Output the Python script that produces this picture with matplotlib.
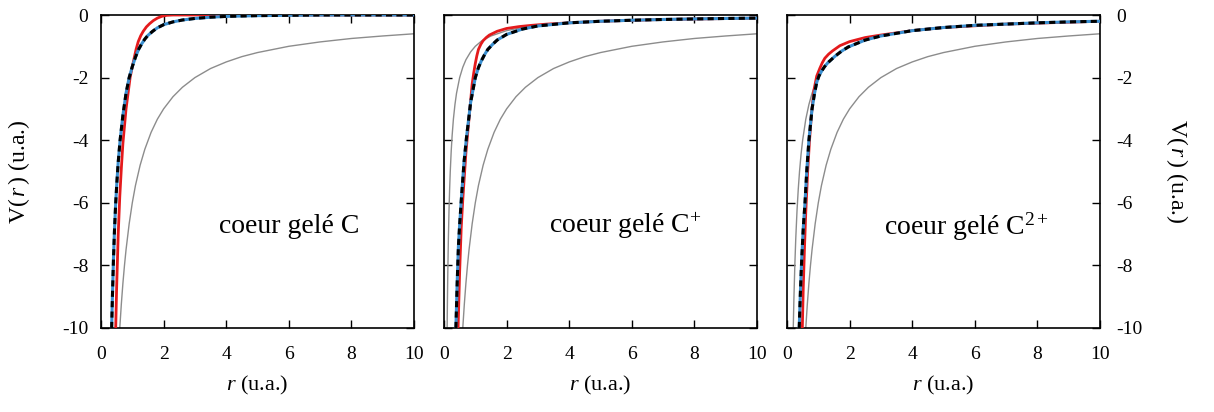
import numpy as np
import matplotlib.pyplot as plt

plt.rcParams['font.family'] = ['Liberation Serif', 'DejaVu Serif']
plt.rcParams['mathtext.fontset'] = 'custom'
plt.rcParams['mathtext.rm'] = 'Liberation Serif'
plt.rcParams['mathtext.it'] = 'Liberation Serif:italic'
plt.rcParams['axes.unicode_minus'] = False

# --- DATA ---
# noyau nu, -6/r (same in the three panels)
r_nuc = [0.6, 0.65, 0.7, 0.75, 0.8, 0.9, 1.0, 1.1, 1.25, 1.4, 1.6, 1.8, 2.0, 2.3, 2.6, 3.0, 3.5, 4.0, 4.5, 5.0, 6.0, 7.0, 8.0, 9.0, 10.0]
v_nuc = [-10, -9.23, -8.57, -8.0, -7.5, -6.67, -6.0, -5.45, -4.8, -4.29, -3.75, -3.33, -3.0, -2.61, -2.31, -2.0, -1.71, -1.5, -1.33, -1.2, -1.0, -0.86, -0.75, -0.67, -0.6]

# ion charge seen from outside (C+ : -1/r, C2+ : -2/r)
r_ion1 = [0.1, 0.11, 0.12, 0.14, 0.16, 0.18, 0.2, 0.23, 0.26, 0.3, 0.35, 0.4, 0.5, 0.6, 0.7, 0.85, 1.0, 1.2, 1.5, 2.0, 2.5, 3.0, 4.0, 5.0, 6.0, 8.0, 10.0]
v_ion1 = [-10, -9.09, -8.33, -7.14, -6.25, -5.56, -5.0, -4.35, -3.85, -3.33, -2.86, -2.5, -2.0, -1.67, -1.43, -1.18, -1.0, -0.83, -0.67, -0.5, -0.4, -0.33, -0.25, -0.2, -0.17, -0.125, -0.1]
r_ion2 = [0.2, 0.22, 0.25, 0.28, 0.32, 0.36, 0.4, 0.45, 0.5, 0.6, 0.7, 0.8, 1.0, 1.2, 1.5, 2.0, 2.5, 3.0, 4.0, 5.0, 6.0, 8.0, 10.0]
v_ion2 = [-10, -9.09, -8.0, -7.14, -6.25, -5.56, -5.0, -4.44, -4.0, -3.33, -2.86, -2.5, -2.0, -1.67, -1.33, -1.0, -0.8, -0.67, -0.5, -0.4, -0.33, -0.25, -0.2]

# coeur gele C
rC_ref = [0.34, 0.37, 0.4, 0.43, 0.47, 0.51, 0.55, 0.61, 0.7, 0.8, 0.9, 1.0, 1.1, 1.2, 1.3, 1.4, 1.5, 1.65, 1.8, 2.0, 2.3, 2.6, 3.0, 3.5, 4.0, 5.0, 6.0, 7.0, 10.0]
vC_ref = [-10, -8.8, -7.75, -6.9, -6.0, -5.3, -4.7, -4.0, -3.2, -2.5, -2.0, -1.65, -1.35, -1.1, -0.92, -0.77, -0.65, -0.52, -0.41, -0.31, -0.22, -0.16, -0.11, -0.07, -0.045, -0.02, -0.01, 0, 0]
rC_fit = [0.47, 0.5, 0.55, 0.6, 0.65, 0.7, 0.8, 0.93, 1.0, 1.05, 1.12, 1.19, 1.27, 1.35, 1.45, 1.55, 1.67, 1.8, 1.95, 2.1, 2.3, 10.0]
vC_fit = [-10, -8.7, -7.0, -5.8, -4.9, -4.1, -3.0, -2.0, -1.65, -1.42, -1.1, -0.85, -0.66, -0.52, -0.38, -0.28, -0.18, -0.1, -0.04, -0.01, 0, 0]

# coeur gele C+
rC1_ref = [0.38, 0.42, 0.46, 0.5, 0.56, 0.64, 0.72, 0.85, 1.0, 1.1, 1.2, 1.3, 1.4, 1.55, 1.7, 2.0, 2.5, 3.0, 4.0, 5.0, 6.0, 7.0, 8.0, 9.0, 10.0]
vC1_ref = [-10, -8.6, -7.4, -6.7, -5.8, -4.7, -3.9, -2.8, -2.0, -1.68, -1.45, -1.26, -1.1, -0.94, -0.8, -0.62, -0.45, -0.35, -0.25, -0.2, -0.167, -0.143, -0.125, -0.111, -0.1]
rC1_fit = [0.45, 0.5, 0.55, 0.6, 0.7, 0.8, 0.9, 0.95, 1.0, 1.05, 1.1, 1.18, 1.25, 1.35, 1.45, 1.7, 2.0, 2.4, 2.8, 3.3, 4.0, 5.0, 7.0, 10.0]
vC1_fit = [-10, -8.2, -6.8, -5.9, -4.4, -3.3, -2.2, -1.85, -1.55, -1.3, -1.1, -0.93, -0.82, -0.72, -0.64, -0.52, -0.43, -0.37, -0.33, -0.29, -0.25, -0.2, -0.143, -0.1]

# coeur gele C2+
rC2_ref = [0.39, 0.43, 0.47, 0.52, 0.575, 0.63, 0.7, 0.8, 0.88, 0.95, 1.02, 1.1, 1.2, 1.3, 1.53, 1.75, 1.96, 2.5, 3.0, 4.0, 5.0, 6.0, 7.0, 8.0, 9.0, 10.0]
vC2_ref = [-10, -8.8, -7.8, -6.8, -6.0, -5.0, -4.0, -3.0, -2.5, -2.15, -1.95, -1.8, -1.65, -1.53, -1.32, -1.15, -1.02, -0.8, -0.67, -0.5, -0.4, -0.33, -0.29, -0.25, -0.22, -0.2]
rC2_fit = [0.49, 0.52, 0.56, 0.6, 0.66, 0.72, 0.78, 0.86, 0.95, 1.05, 1.13, 1.21, 1.33, 1.45, 1.69, 2.0, 2.5, 3.0, 4.0, 5.0, 7.0, 10.0]
vC2_fit = [-10, -8.7, -7.4, -6.3, -5.0, -4.0, -3.2, -2.4, -1.95, -1.7, -1.52, -1.38, -1.25, -1.15, -0.98, -0.85, -0.72, -0.64, -0.5, -0.4, -0.29, -0.2]

labels = ['coeur gelé C', 'coeur gelé C$^{+}$', 'coeur gelé C$^{2+}$']
text_x = [6.0, 5.8, 5.75]

panels = [
    (None, None, rC_ref, vC_ref, rC_fit, vC_fit),
    (r_ion1, v_ion1, rC1_ref, vC1_ref, rC1_fit, vC1_fit),
    (r_ion2, v_ion2, rC2_ref, vC2_ref, rC2_fit, vC2_fit),
]

fig = plt.figure(figsize=(12.14, 4.12), dpi=100)
lefts = [101, 444, 787]
ylab = 'V$(\\,r\\,)$ (u.a.)'

for i, (ri, vi, rr, vr, rf, vf) in enumerate(panels):
    ax = fig.add_axes([lefts[i] / 1214, 84 / 412, 313 / 1214, 313 / 412])
    ax.plot(r_nuc, v_nuc, color='#8c8c8c', lw=1.0, zorder=2)
    if ri is not None:
        ax.plot(ri, vi, color='#8c8c8c', lw=1.0, zorder=2)
    ax.plot(rf, vf, color='#e41a1c', lw=2.0, zorder=3)
    ax.plot(rr, vr, color='#3a8fd0', lw=2.2, zorder=4)
    ax.plot(rr, vr, color='black', lw=2.2, dashes=(2.0, 1.4), zorder=5)

    ax.set_xlim(0, 10)
    ax.set_ylim(-10, 0)
    ax.set_xticks(np.arange(0, 11, 2))
    ax.set_yticks(np.arange(-10, 1, 2))
    ax.tick_params(direction='in', length=6, width=1.0, labelsize=14,
                   top=True, right=True, pad=9)
    ax.tick_params(axis='x', pad=13)
    for s in ax.spines.values():
        s.set_linewidth(1.2)

    ax.text(text_x[i], -6.75, labels[i], ha='center', va='center', fontsize=20)
    ax.set_xlabel('$r$ (u.a.)', fontsize=16, labelpad=8)

    if i == 0:
        ax.set_ylabel(ylab, fontsize=17, labelpad=22)
    elif i == 1:
        ax.set_yticklabels([])
    else:
        ax.yaxis.set_label_position('right')
        ax.yaxis.tick_right()
        ax.tick_params(axis='y', left=True, right=True, labelleft=False, labelright=True, pad=12)
        ax.set_ylabel(ylab, fontsize=17, rotation=270, labelpad=34)

fig.savefig('out.png', dpi=100)
